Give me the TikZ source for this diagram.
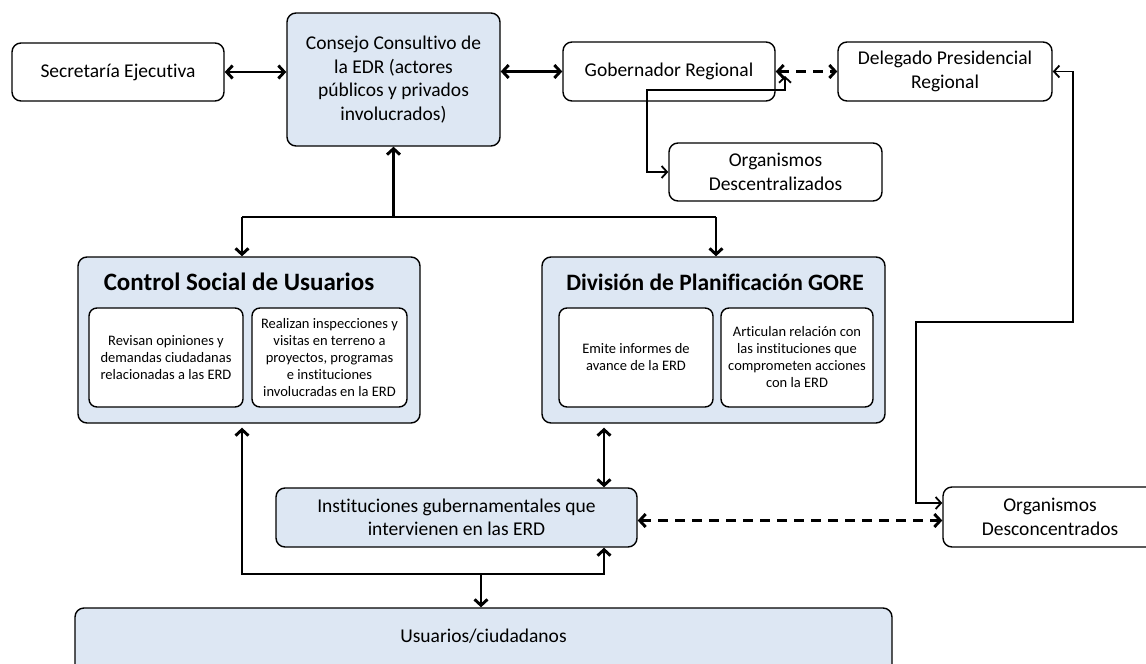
\documentclass[tikz,border=0pt]{standalone}
\usepackage{fontspec}
\setmainfont{Carlito}[Ligatures={NoCommon,NoContextual,NoRare},RawFeature={-liga;-clig;-dlig}]
\usetikzlibrary{arrows.meta}
\definecolor{boxblue}{RGB}{221,231,243}
\begin{document}
\begin{tikzpicture}[x=1pt,y=-1pt,
 box/.style={draw, rounded corners=9pt, line width=1.4pt, align=center, inner sep=0pt, font=\fontsize{19.5}{23.5}\selectfont},
 bluebox/.style={box, fill=boxblue},
 smallbox/.style={draw, rounded corners=8pt, line width=1.4pt, fill=white, align=center, inner sep=0pt, font=\fontsize{14.5}{17}\selectfont},
 titletext/.style={font=\bfseries\fontsize{23.5}{28}\selectfont, inner sep=0pt},
 conn/.style={line width=2.9pt, >={Straight Barb[length=6pt,width=13pt]}},
 thinconn/.style={line width=1.8pt, >={Straight Barb[length=5.5pt,width=12pt]}},
 dconn/.style={conn, dash pattern=on 10pt off 7pt}]
\useasboundingbox (0,0) rectangle (1146,664);

% top row
\node[box, minimum width=212pt, minimum height=58pt] (sec) at (118,72) {Secretaría Ejecutiva};
\node[bluebox, minimum width=213pt, minimum height=133pt] (cons) at (393.5,79.5) {Consejo Consultivo de\\la EDR (actores\\públicos y privados\\involucrados)};
\node[box, minimum width=212pt, minimum height=59pt] (gob) at (669,71.5) {Gobernador Regional};
\node[box, minimum width=214pt, minimum height=59pt] (del) at (945,71.5) {Delegado Presidencial\\Regional};
\node[box, minimum width=213pt, minimum height=58pt] (odesc) at (775.5,172) {Organismos\\Descentralizados};

% middle containers
\node[bluebox, minimum width=342pt, minimum height=166pt] (csu) at (249,340) {};
\node[titletext, font=\bfseries\fontsize{25}{30}\selectfont] (csut) at (239,282) {Control Social de Usuarios};
\node[smallbox, minimum width=154pt, minimum height=99pt] (csu1) at (166,357.5) {Revisan opiniones y\\demandas ciudadanas\\relacionadas a las ERD};
\node[smallbox, minimum width=155pt, minimum height=99pt] (csu2) at (329.5,357.5) {Realizan inspecciones y\\visitas en terreno a\\proyectos, programas\\e instituciones\\involucradas en la ERD};

\node[bluebox, minimum width=343pt, minimum height=166pt] (dpg) at (713.5,340) {};
\node[titletext] (dpgt) at (715,282) {División de Planificación GORE};
\node[smallbox, minimum width=154pt, minimum height=99pt] (dpg1) at (636,357.5) {Emite informes de\\avance de la ERD};
\node[smallbox, minimum width=152pt, minimum height=99pt] (dpg2) at (797,357.5) {Articulan relación con\\las instituciones que\\comprometen acciones\\con la ERD};

% lower row
\node[bluebox, minimum width=361pt, minimum height=59pt] (inst) at (456.5,517.5) {Instituciones gubernamentales que\\intervienen en las ERD};
\node[box, minimum width=214pt, minimum height=60pt] (oconc) at (1050,517) {Organismos\\Desconcentrados};
\node[bluebox, minimum width=817pt, minimum height=66pt] (usu) at (483.5,641) {};
\node[font=\fontsize{19.5}{23.5}\selectfont] (usut) at (483.5,636) {Usuarios/ciudadanos};

% connector points
\coordinate (g1) at (785,76);
\coordinate (g2) at (647,90);
\coordinate (r1) at (1073,322);
\coordinate (r2) at (916,322);
\coordinate (t1) at (242,217);
\coordinate (t2) at (716,217);
\coordinate (b1) at (242,574);
\coordinate (b2) at (604,574);
\coordinate (b3) at (481,574);

% top connectors
\draw[conn,<->] (sec.east) -- (sec.east -| cons.west);
\draw[conn,<->] (gob.west -| cons.east) -- (gob.west);
\draw[dconn,<->] (gob.east) -- (del.west);
\draw[thinconn,<->] (g1) |- (g2) |- (odesc.west);
\draw[thinconn,<->] (del.east) -| (r1) -- (r2) |- ([yshift=14pt]oconc.west);

% consejo to middle
\draw[conn] (t1) -- (t2);
\draw[conn,->] (cons.south |- t1) -- (cons.south);
\draw[conn,->] (t1) -- (t1 |- csu.north);
\draw[conn,->] (t2) -- (t2 |- dpg.north);

% bottom connectors
\draw[conn,<->] ([yshift=-4pt]b1 |- csu.south) -- (b1) -- (b2) -- (b2 |- inst.south);
\draw[conn,->] (b3) -- (b3 |- usu.north);
\draw[conn,<->] ([yshift=-4pt]b2 |- dpg.south) -- (b2 |- inst.north);
\draw[dconn,<->] ([yshift=-3pt]inst.east) -- ([yshift=-3pt]inst.east -| oconc.west);
\end{tikzpicture}
\end{document}
